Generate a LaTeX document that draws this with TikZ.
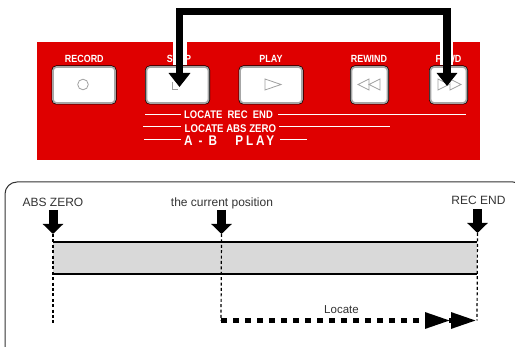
\documentclass[tikz,border=0pt]{standalone}
\usepackage{fontspec}
\setmainfont{Liberation Sans}
\newfontfamily\condf[FakeStretch=0.86]{Liberation Sans}
\newfontfamily\condw[FakeStretch=0.84,LetterSpace=20]{Liberation Sans}
\usetikzlibrary{arrows.meta}
\definecolor{panelred}{HTML}{DF0000}
\definecolor{bargray}{HTML}{D9D9D9}
\definecolor{sym}{HTML}{A0A0A0}
\tikzset{
  btn/.style={rectangle,rounded corners=3.5pt,inner sep=0pt,draw=black!35,line width=1.7pt,fill=white,
    preaction={draw=black,line width=3pt},minimum height=36pt},
  btnlabel/.style={text=white,font=\condf\fontsize{10.4}{10}\bfseries\selectfont,inner sep=0pt,anchor=base},
  panelline/.style={draw=white,line width=1pt},
  paneltext/.style={text=white,inner sep=0pt,anchor=base west},
  symb/.style={draw=sym,line width=.8pt,fill=white},
  bigarrow/.style={line width=7.5pt,draw=black,{Triangle[length=14pt,width=21pt]}-{Triangle[length=13pt,width=20pt]}},
  halo/.style={fill=white,draw=none},
  smallarrow/.style={line width=9pt,draw=black,-{Triangle[length=10pt,width=20pt]}},
  guide/.style={draw=black,line width=1.2pt,dash pattern=on 3pt off 2.4pt},
  locarrow/.style={draw=black,line width=5.6pt,dash pattern=on 6pt off 6pt,
    -{Triangle[length=26pt,width=15pt]Triangle[length=26pt,width=15pt]}},
  barline/.style={draw=black,line width=1.1pt},
  caption/.style={text=black!80,font=\fontsize{12}{12}\selectfont,inner sep=0pt,anchor=base}
}
\begin{document}
\begin{tikzpicture}[x=1pt,y=-1pt]
\useasboundingbox (0,0) rectangle (515,347);
% panel
\fill[panelred] (37,42) rectangle (480,160);
\node[btn,minimum width=62pt] (record) at (84,85) {};
\node[btn,minimum width=62pt] (stop) at (177.5,85) {};
\node[btn,minimum width=62pt] (play) at (271,85) {};
\node[btn,minimum width=36pt] (rewind) at (369.5,85) {};
\node[btn,minimum width=36pt] (ffwd) at (448.5,85) {};
\node[btnlabel] (lrecord) at (84.3,62.7) {RECORD};
\node[btnlabel] (lstop) at (179,62.7) {STOP};
\node[btnlabel] (lplay) at (271,62.7) {PLAY};
\node[btnlabel] (lrewind) at (369,62.7) {REWIND};
\node[btnlabel] (lffwd) at (448.5,62.7) {FFWD};
% symbols
\draw[symb] (83,84.5) circle (5.3pt);
\draw[symb,fill=none] (172,82) -- (172,89.5) -- (178,89.5);
\draw[symb] (265,79) -- (281,84.5) -- (265,90) -- cycle;
\draw[symb] (369,79) -- (358,84.5) -- (369,90) -- cycle;
\draw[symb] (380,79) -- (369,84.5) -- (380,90) -- cycle;
\draw[symb] (438,79) -- (449,84.5) -- (438,90) -- cycle;
\draw[symb] (450,79) -- (461,84.5) -- (450,90) -- cycle;
% panel lines and text
\node[paneltext,font=\condf\fontsize{11}{11}\bfseries\selectfont] (t1) at (184,119) {LOCATE\ \ REC\ \ END};
\node[paneltext,font=\condf\fontsize{11.2}{11}\bfseries\selectfont] (t2) at (184.5,132.5) {LOCATE ABS ZERO};
\node[paneltext,font=\condw\fontsize{14}{14}\bfseries\selectfont] (t3) at (184,146) {A - B\ \ \ PLAY};
\coordinate (a1) at (145,114.5);
\coordinate (b1) at (466,114.5);
\coordinate (a2) at (143,127);
\coordinate (b2) at (390,127);
\coordinate (a3) at (144,140);
\coordinate (b3) at (307,140);
\coordinate (a1e) at (181,114.5);
\coordinate (b1s) at (278,114.5);
\coordinate (a2e) at (181,127);
\coordinate (b2s) at (279,127);
\coordinate (a3e) at (181,140);
\coordinate (b3s) at (280,140);
\draw[panelline] (a1) -- (a1e) (b1s) -- (b1);
\draw[panelline] (a2) -- (a2e) (b2s) -- (b2);
\draw[panelline] (a3) -- (a3e) (b3s) -- (b3);
% big arrow
\fill[halo] (173,42) rectangle (187,65);
\fill[halo] (440,42) rectangle (453,65);
\coordinate (tipstop) at (179.5,87);
\coordinate (tipff) at (447,86);
\coordinate (top) at (300,11.5);
\draw[bigarrow] (tipstop) -- (tipstop |- top) -- (tipff |- top) -- (tipff);
% lower box
\begin{scope}
\clip (0,0) rectangle (515,347);
\draw[black!80,line width=1pt,rounded corners=12pt] (5,182) rectangle (525,360);
\end{scope}
\node[caption] (abs) at (53,207) {ABS ZERO};
\node[caption] (cur) at (222,207) {the current position};
\node[caption] (rec) at (478.5,205) {REC END};
\node[caption,font=\fontsize{11.5}{11}\selectfont] (loc) at (341.5,313.5) {Locate};
\coordinate (absA) at (53,210);
\coordinate (absT) at (53,234);
\coordinate (curA) at (221.5,210);
\coordinate (curT) at (221.5,234);
\coordinate (recA) at (477.5,209);
\coordinate (recT) at (477.5,233);
\coordinate (bar1) at (53,242);
\coordinate (bar2) at (477,274);
\fill[bargray] (bar1) rectangle (bar2);
\draw[barline] (bar1) -- (bar1 -| bar2);
\draw[barline] (bar1 |- bar2) -- (bar2);
\coordinate (absB) at (53,324);
\coordinate (curB) at (221,321);
\coordinate (recB) at (477,320.5);
\draw[guide] (absT) -- (absB);
\draw[guide] (curT) -- (curB);
\draw[guide] (recT) -- (recB);
\draw[smallarrow] (absA) -- (absT);
\draw[smallarrow] (curA) -- (curT);
\draw[smallarrow] (recA) -- (recT);
\coordinate (locS) at (221,320.5);
\draw[locarrow] (locS) -- (recB);
\end{tikzpicture}
\end{document}
